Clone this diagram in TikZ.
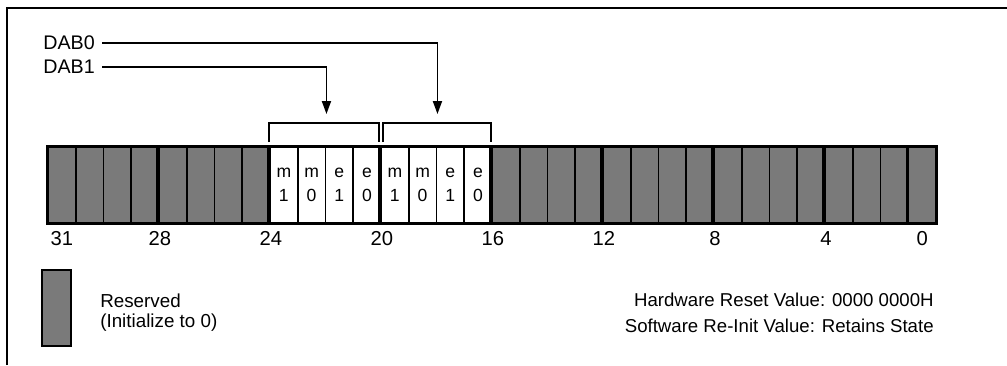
\documentclass[tikz,border=0pt]{standalone}
\usepackage{fontspec}
\setmainfont{Liberation Sans}
\usetikzlibrary{arrows.meta, positioning, calc}
\definecolor{HalfGray}{RGB}{122, 122, 122}

\begin{document}
\begin{tikzpicture}[
        x=0.02cm, y=-0.02cm,
        font=\fontsize{10.6}{12}\selectfont,
        resbit/.style={draw, line width=1.1pt, fill=HalfGray, minimum width=0.555cm, minimum height=1.52cm, inner sep=0pt},
        datbit/.style={resbit, fill=white, align=center, font=\fontsize{10}{13.6}\selectfont},
        nibble/.style={line width=2pt},
        brace/.style={line width=1.1pt},
        arrow/.style={-{Triangle[length=0.26cm, width=0.18cm]}, line width=1.1pt},
        lbl/.style={inner sep=0pt, anchor=west},
        bitnum/.style={inner sep=0pt, font=\fontsize{11.5}{12}\selectfont}
    ]
    \useasboundingbox (0,0) rectangle (1007,365);
    \draw[line width=0.9pt] (7,365) -- (7,8) -- (1007,8);

    % register, c0 is bit 31
    \foreach \i in {0,...,7}
        \node[resbit] (c\i) at ({48+27.75*(\i+0.5)},185) {};
    \foreach \i/\a/\b in {8/m/1, 9/m/0, 10/e/1, 11/e/0, 12/m/1, 13/m/0, 14/e/1, 15/e/0}
        \node[datbit] (c\i) at ({48+27.75*(\i+0.5)},185) {\a\\\b};
    \foreach \i in {16,...,31}
        \node[resbit] (c\i) at ({48+27.75*(\i+0.5)},185) {};
    \foreach \k in {4,8,12,16,20,24,28,31}
        \draw[nibble] (c\k.north west) -- (c\k.south west);
    \draw[line width=1.4pt] (c0.north west) rectangle (c31.south east);

    \node[bitnum, below=0.15cm of c0] (n31) {31};
    \foreach \n/\k in {28/3, 24/7, 20/11, 16/15, 12/19, 8/23, 4/27}
        \node[bitnum, below=0.15cm of c\k.south east] (n\n) {\n};
    \node[bitnum, below=0.15cm of c31] (n0) {0};

    \draw[brace] ($(c8.north west)+(0,-4)$) -- ++(0,-19) -| ($(c11.north east)+(-3,-4)$);
    \draw[brace] ($(c12.north west)+(3,-4)$) -- ++(0,-19) -| ($(c15.north east)+(-2,-4)$);

    \node[lbl, font=\fontsize{11.2}{12}\selectfont] (dab0) at (43,43) {DAB0};
    \node[lbl, font=\fontsize{11.2}{12}\selectfont] (dab1) at (43,67) {DAB1};
    \coordinate (t0) at ($(c13.north east)+(0,-32)$);
    \coordinate (t1) at ($(c9.north east)+(0,-32)$);
    \draw[arrow] ([xshift=0.14cm]dab0.east) -| (t0);
    \draw[arrow] ([xshift=0.14cm]dab1.east) -| (t1);

    % legend
    \node[resbit, minimum width=0.58cm] (key) at (56.5,308) {};
    \node[lbl, align=left, right=0.56cm of key, yshift=-0.1cm, font=\fontsize{10.7}{11.3}\selectfont] (keytxt) {Reserved\\(Initialize to 0)};
    \node[lbl, anchor=east] (hw) at (934,300) {Hardware Reset Value: 0000 0000H};
    \node[lbl, anchor=east] (sw) at (934,326) {Software Re-Init Value: Retains State};
\end{tikzpicture}
\end{document}
